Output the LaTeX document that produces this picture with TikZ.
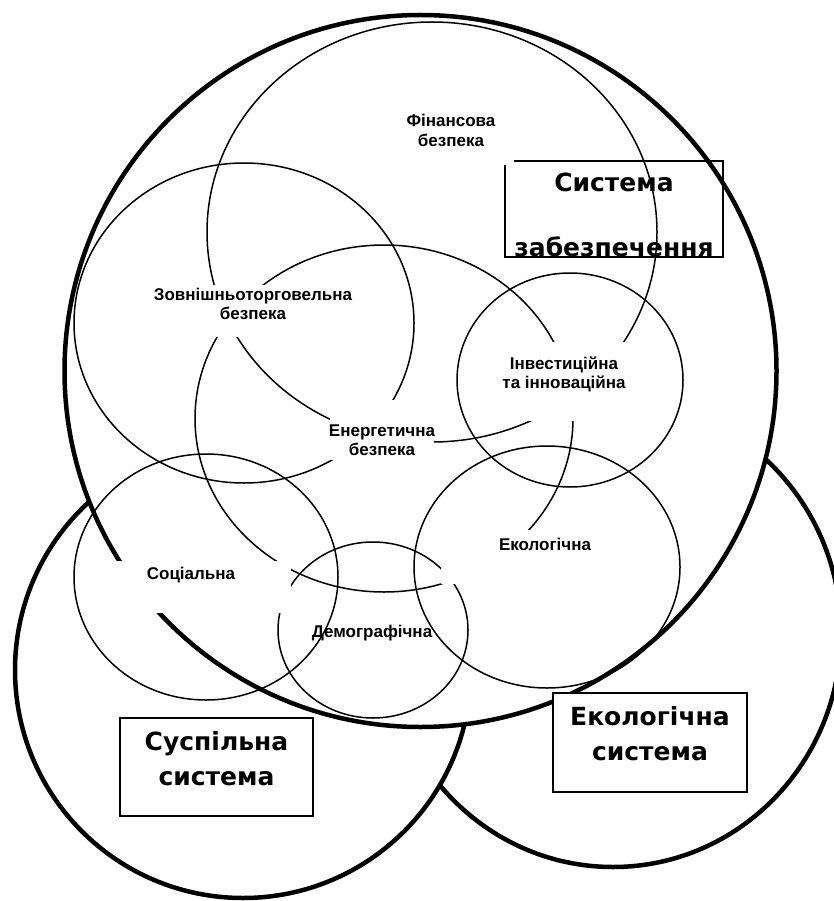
\documentclass[tikz,border=0pt]{standalone}
\usepackage{fontspec}
\setmainfont{Liberation Sans}
\newfontfamily\gothic{DejaVu Sans}
\begin{document}
\begin{tikzpicture}[x=1pt,y=-1pt,
  bigcircle/.style={line width=4.5pt, fill=white},
  thincircle/.style={line width=1.5pt},
  maskbox/.style={fill=white},
  smalllabel/.style={inner sep=0pt, anchor=base, font=\bfseries\fontsize{17}{19.5}\selectfont},
  biglabel/.style={inner sep=0pt, anchor=base, font=\gothic\bfseries\fontsize{25}{35}\selectfont},
  sysbox/.style={line width=1.4pt, fill=white}]
\useasboundingbox (0,0) rectangle (833,901);

% outer systems
\draw[bigcircle] (613,633) ellipse [x radius=228, y radius=234];
\draw[bigcircle] (243,670) circle [radius=228];
\draw[bigcircle] (420.5,371) circle [radius=356];

% inner security circles
\draw[thincircle] (432,232) ellipse [x radius=225, y radius=210];   % financial
\draw[thincircle] (244,323) ellipse [x radius=170, y radius=160];   % foreign trade
\draw[thincircle] (384,418.5) ellipse [x radius=189, y radius=173.5]; % energy
\draw[thincircle] (570,380) ellipse [x radius=113, y radius=107];   % investment
\draw[thincircle] (547,567) ellipse [x radius=133, y radius=121];   % ecological
\draw[thincircle] (206,577) ellipse [x radius=132, y radius=123];   % social
\draw[thincircle] (373,630) ellipse [x radius=95, y radius=88];     % demographic

% white text boxes that hide lines
\fill[maskbox] (150,285) rectangle (355,337);
\fill[maskbox] (330,400) rectangle (434,460);
\fill[maskbox] (500,342) rectangle (629,421);
\fill[maskbox] (441,530) rectangle (650,584);
\fill[maskbox] (110,561) rectangle (291,613);

% labels
\node[smalllabel] (fin) at (451,127) {\begin{tabular}[t]{@{}c@{}}Фінансова\\безпека\end{tabular}};
\node[smalllabel] (zovn) at (253,300) {\begin{tabular}[t]{@{}c@{}}Зовнішньоторговельна\\безпека\end{tabular}};
\node[smalllabel] (energ) at (382,436) {\begin{tabular}[t]{@{}c@{}}Енергетична\\безпека\end{tabular}};
\node[smalllabel] (invest) at (564,369) {\begin{tabular}[t]{@{}c@{}}Інвестиційна\\та інноваційна\end{tabular}};
\node[smalllabel] (ekol) at (545,550) {Екологічна};
\node[smalllabel] (soc) at (191,579) {Соціальна};
\node[smalllabel] (demo) at (372,637) {Демографічна};

% system boxes
\draw[sysbox] (120,718) rectangle (313,816);
\node[biglabel] (sus) at (216.5,750) {\begin{tabular}[t]{@{}c@{}}Суспільна\\система\end{tabular}};
\draw[sysbox] (553,693) rectangle (747,792);
\node[biglabel] (ekolsys) at (650,725) {\begin{tabular}[t]{@{}c@{}}Екологічна\\система\end{tabular}};
\draw[line width=1.4pt] (514,161) -- (723,161) -- (723,257) -- (505,257) -- (505,165);
\node[biglabel, font=\gothic\bfseries\fontsize{25}{65}\selectfont] (zab) at (614,192) {\begin{tabular}[t]{@{}c@{}}Система\\забезпечення\end{tabular}};
\end{tikzpicture}
\end{document}
